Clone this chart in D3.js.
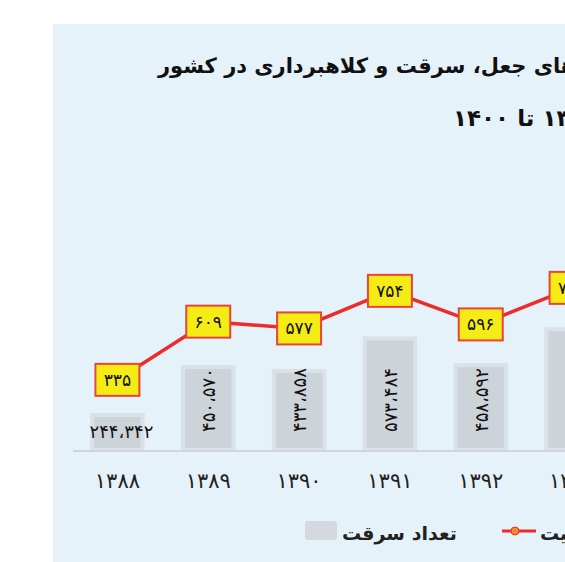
<!DOCTYPE html>
<html>
<head>
<meta charset="utf-8">
<script src="https://cdn.jsdelivr.net/npm/d3@7"></script>
<style>
  html, body { margin: 0; padding: 0; background: #fff; overflow: hidden; }
  svg { display: block; }
  text { font-family: 'DejaVu Sans', sans-serif; }
</style>
</head>
<body>
<div id="chart-area"></div>
<script>
// data (years 1388..1393 visible in the crop)
var years = ['۱۳۸۸', '۱۳۸۹', '۱۳۹۰', '۱۳۹۱', '۱۳۹۲', '۱۳۹۳']
var theftCount = [244342, 450570, 433858, 573484, 458592, 613064]
var rateValues = [335, 609, 577, 754, 596, 768]
var titleLines = ['روند وقوع پرونده‌های جعل، سرقت و کلاهبرداری در کشور', 'از سال ۱۳۸۸ تا ۱۴۰۰']
var legendBar = 'تعداد سرقت'
var legendLine = 'نرخ به ازای هر صد هزار نفر جمعیت'

var W = 565, H = 562
var baseY = 450

var fa = d3.formatLocale({
  decimal: '.', thousands: '،', grouping: [3], currency: ['', ''],
  numerals: ['۰', '۱', '۲', '۳', '۴', '۵', '۶', '۷', '۸', '۹']
})
var fmt = fa.format(',d')

var svg = d3.select('#chart-area').append('svg')
    .attr('width', W)
    .attr('height', H)

// panel
svg.append('rect')
    .attr('x', 53).attr('y', 24)
    .attr('width', W).attr('height', H)
    .attr('fill', '#e6f2f9')

// title
svg.selectAll('.title').data(titleLines).enter()
  .append('text')
    .attr('class', 'title')
    .attr('direction', 'rtl')
    .attr('text-anchor', 'end')
    .attr('x', (d, i) => i === 0 ? 158 : 453)
    .attr('y', (d, i) => i === 0 ? 73 : 126)
    .attr('font-size', (d, i) => i === 0 ? '21px' : '23px')
    .attr('font-weight', 'bold')
    .attr('fill', '#111')
    .text(d => d)

var x = d3.scaleBand().domain(years).range([72, 617]).paddingInner(0.4).paddingOuter(0.2)
var yBar = d3.scaleLinear().domain([85300, 700000]).range([baseY, baseY - 143])
var yLine = d3.scaleLinear().domain([0, 2000]).range([baseY + 1, baseY + 1 - 424.8])

var cx = d => x(d) + x.bandwidth() / 2

// bars
svg.selectAll('.bar').data(years).enter()
  .append('rect')
    .attr('class', 'bar')
    .attr('x', d => x(d) + 2)
    .attr('width', x.bandwidth() - 4)
    .attr('y', (d, i) => yBar(theftCount[i]) + 2)
    .attr('height', (d, i) => baseY - yBar(theftCount[i]) - 2)
    .attr('fill', '#ccd3d9')
    .attr('stroke', '#d9e2e8')
    .attr('stroke-width', 4)

// baseline
svg.append('line')
    .attr('x1', 73).attr('x2', W)
    .attr('y1', baseY + 1).attr('y2', baseY + 1)
    .attr('stroke', '#cfd5da')
    .attr('stroke-width', 2)

// bar value labels
svg.selectAll('.bar-label').data(years).enter()
  .append('text')
    .attr('class', 'bar-label')
    .attr('font-size', '18px')
    .attr('fill', '#111')
    .attr('text-anchor', (d, i) => i === 0 ? 'middle' : 'start')
    .attr('transform', (d, i) => i === 0
      ? `translate(${cx(d) + 4}, ${baseY - 12})`
      : `translate(${cx(d) + 7}, ${baseY - 18}) rotate(-90)`)
    .text((d, i) => fmt(theftCount[i]))

// x axis labels
svg.selectAll('.x-label').data(years).enter()
  .append('text')
    .attr('class', 'x-label')
    .attr('x', d => cx(d))
    .attr('y', 488)
    .attr('text-anchor', 'middle')
    .attr('font-size', '21px')
    .attr('fill', '#222')
    .text(d => d)

// line
var line = d3.line()
    .x((d, i) => cx(years[i]))
    .y(d => yLine(d))

svg.append('path')
    .datum(rateValues)
    .attr('d', line)
    .attr('fill', 'none')
    .attr('stroke', '#ee2b2b')
    .attr('stroke-width', 3.5)

var boxes = svg.selectAll('.rate').data(rateValues).enter()
  .append('g')
    .attr('class', 'rate')
    .attr('transform', (d, i) => `translate(${cx(years[i])}, ${yLine(d)})`)

boxes.append('rect')
    .attr('x', -22).attr('y', -16)
    .attr('width', 44).attr('height', 32)
    .attr('fill', '#f5ec15')
    .attr('stroke', '#e8443c')
    .attr('stroke-width', 2)

boxes.append('text')
    .attr('text-anchor', 'middle')
    .attr('y', 6)
    .attr('font-size', '17px')
    .attr('fill', '#111')
    .text(d => fa.format('d')(d))

// legend
svg.append('rect')
    .attr('x', 305).attr('y', 521)
    .attr('width', 32).attr('height', 19)
    .attr('rx', 3)
    .attr('fill', '#d3d9de')

svg.append('text')
    .attr('direction', 'rtl')
    .attr('text-anchor', 'end')
    .attr('x', 342).attr('y', 540)
    .attr('font-size', '19px')
    .attr('font-weight', 'bold')
    .attr('fill', '#222')
    .text(legendBar)

svg.append('line')
    .attr('x1', 502).attr('x2', 536)
    .attr('y1', 531).attr('y2', 531)
    .attr('stroke', '#ee2b2b')
    .attr('stroke-width', 3)

svg.append('circle')
    .attr('cx', 515).attr('cy', 531).attr('r', 4)
    .attr('fill', '#f28a2e')
    .attr('stroke', '#ee2b2b')
    .attr('stroke-width', 1)

svg.append('text')
    .attr('direction', 'rtl')
    .attr('text-anchor', 'end')
    .attr('x', 540).attr('y', 540)
    .attr('font-size', '19px')
    .attr('font-weight', 'bold')
    .attr('fill', '#222')
    .text(legendLine)
</script>
</body>
</html>
